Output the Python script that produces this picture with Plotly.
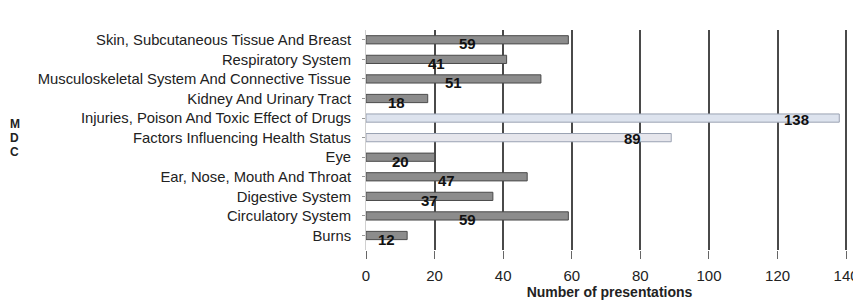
import plotly.graph_objects as go

categories = [
    "Skin, Subcutaneous Tissue And Breast",
    "Respiratory System",
    "Musculoskeletal System And Connective Tissue",
    "Kidney And Urinary Tract",
    "Injuries, Poison And Toxic Effect of Drugs",
    "Factors Influencing Health Status",
    "Eye",
    "Ear, Nose, Mouth And Throat",
    "Digestive System",
    "Circulatory System",
    "Burns",
]
values = [59, 41, 51, 18, 138, 89, 20, 47, 37, 59, 12]
highlight = [False, False, False, False, True, True, False, False, False, False, False]
x_ticks = [0, 20, 40, 60, 80, 100, 120, 140]
axis_letters = ["M", "D", "C"]

FONT = "Liberation Sans, Arial, sans-serif"

fills = []
lines = []
for h, c in zip(highlight, categories):
    if h:
        fills.append("#dde3ee" if c.startswith("Injuries") else "#e6e6ec")
        lines.append("#9aa2b2")
    else:
        fills.append("#8c8c8c")
        lines.append("#4a4a4a")

fig = go.Figure(
    go.Bar(
        x=values,
        y=categories,
        orientation="h",
        width=0.42,
        marker=dict(color=fills, line=dict(color=lines, width=1)),
        hoverinfo="skip",
    )
)

for c, v, h in zip(categories, values, highlight):
    if h:
        fig.add_annotation(x=v, y=c, text=f"<b>{v}</b>", showarrow=False,
                           xanchor="right", xshift=-28, yshift=-1,
                           font=dict(family=FONT, size=15, color="#111"))
    else:
        fig.add_annotation(x=v / 2, y=c, text=f"<b>{v}</b>", showarrow=False,
                           xanchor="center", yshift=-4,
                           font=dict(family=FONT, size=15, color="#111"))

# stacked "MDC" axis label
for i, ch in enumerate(axis_letters):
    fig.add_annotation(xref="paper", yref="paper", x=-0.721, y=0.509,
                       yshift=14 * (1 - i), text=f"<b>{ch}</b>",
                       showarrow=False, xanchor="center", yanchor="middle",
                       borderpad=0,
                       font=dict(family=FONT, size=12, color="#222"))

# The page body has an 8px default margin, so the figure is offset by 8px.
fig.update_layout(
    width=853, height=296,
    margin=dict(l=358, r=8, t=22, b=54, autoexpand=False),
    paper_bgcolor="white", plot_bgcolor="white",
    showlegend=False,
    font=dict(family=FONT, color="#222"),
    xaxis=dict(
        range=[0, 142], tickvals=x_ticks, ticktext=[str(t) for t in x_ticks],
        automargin=False,
        showgrid=True, gridcolor="#4a4a4a", gridwidth=1.5,
        zeroline=False, showline=False,
        ticks="outside", ticklen=8, tickcolor="#666",
        ticklabelstandoff=4, ticklabeloverflow="allow",
        tickfont=dict(size=15, color="#222"),
        title=dict(text="<b>Number of presentations</b>", standoff=4,
                   font=dict(size=14, color="#222")),
    ),
    yaxis=dict(
        categoryorder="array", categoryarray=categories[::-1],
        automargin=False,
        showgrid=False, zeroline=False, showline=True, linecolor="#d0d0d0",
        ticks="outside", ticklen=3, tickcolor="#999",
        ticklabelstandoff=8,
        tickfont=dict(size=14.8, color="#222"),
    ),
)

fig.write_html("out.html")
